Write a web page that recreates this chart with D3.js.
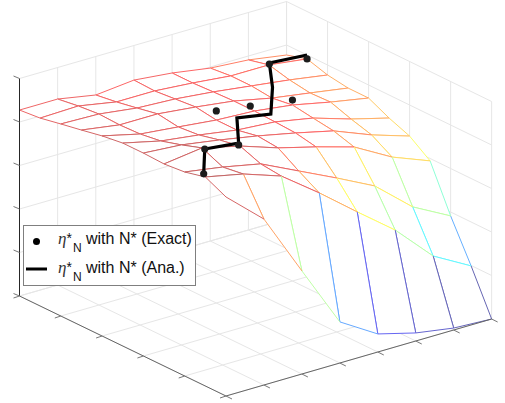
<!DOCTYPE html>
<html><head><meta charset="utf-8">
<script src="https://cdnjs.cloudflare.com/ajax/libs/d3/7.8.5/d3.min.js"></script>
<style>html,body{margin:0;padding:0;background:#fff}svg{display:block}</style>
</head><body><svg id="c" width="505" height="403"></svg>
<script>
const xValues = [0,1,2,3,4,5,6,7,8,9,10];
const yValues = [0,1,2,3,4,5,6,7];
const surfaceZ = [
 [.855,.855,.823,.841,.823,.795,.782,.754],
 [.864,.869,.837,.837,.823,.805,.805,.782],
 [.883,.878,.855,.846,.828,.805,.782,.754],
 [.901,.874,.874,.855,.832,.795,.768,.740],
 [.920,.878,.860,.841,.832,.809,.772,.740],
 [.933,.892,.869,.841,.828,.795,.740,.694],
 [.933,.920,.892,.860,.823,.782,.713,.657],
 [.929,.952,.910,.851,.805,.754,.657,.589],
 [.938,.910,.874,.791,.708,.621,.474,.382],
 [.961,.924,.864,.736,.598,.464,.294,.198],
 [.915,.763,.474,.189,.083,.037,.009,0]
];
const exactX = [8.92,7.13,6.93,4,3.8,4,1.02,1];
const exactY = [0,1,2,3,4,5,6,7];
const exactZ = [.972,.953,.912,.883,.846,.832,.810,.782];
const anaX = [8.92,7.13,6.93,5,4.8,3.03,1.02,1];
const anaY = [0,1,2,3,4,5,6,7];
const anaZ = [.972,.953,.920,.897,.855,.846,.815,.800];
const xTicks = [0,2,4,6,8,10];
const yTicks = [0,1,2,3,4,5,6,7];
const zTicks = [0,.2,.4,.6,.8,1];
const legendLabels = ["with N* (Exact)","with N* (Ana.)"];

const svg = d3.select("#c");
const ix = d3.scaleLinear().domain([0,10]).range([0,206.5]);
const jx = d3.scaleLinear().domain([0,7]).range([0,267.05]);
const iy = d3.scaleLinear().domain([0,10]).range([0,100]);
const jy = d3.scaleLinear().domain([0,7]).range([0,-77]);
const zs = d3.scaleLinear().domain([0,1]).range([0,-217.5]);
const P = (a,b,c) => [19.5+ix(a)+jx(b)-0.02*a*b, 296+iy(a)+jy(b)+zs(c)];
const line = d3.line();
const jet = d3.scaleLinear().domain([0,.125,.375,.625,.875,1])
  .range(["rgb(0,0,128)","rgb(0,0,255)","rgb(0,255,255)","rgb(255,255,0)","rgb(255,0,0)","rgb(128,0,0)"]).clamp(true);
const colorScale = d3.scaleLinear().domain([0,.29,.6,.77,.81,1]).range([0,.36,.63,.78,.87,1]);
const edgeColor = z => d3.interpolateRgb(jet(colorScale(z)),"#fff")(0.4);

const grid = svg.append("g").attr("stroke","#e6e6e6").attr("stroke-width",1).attr("fill","none");
const seg = (g,a,b,c) => g.append("path").attr("d",line([a,b])).attr("stroke",c||null);
xTicks.forEach(t=>{seg(grid,P(t,0,0),P(t,7,0));seg(grid,P(t,7,0),P(t,7,1));});
yTicks.forEach(t=>{seg(grid,P(0,t,0),P(10,t,0));seg(grid,P(0,t,0),P(0,t,1));});
zTicks.forEach(t=>{seg(grid,P(0,0,t),P(0,7,t));seg(grid,P(0,7,t),P(10,7,t));});

const surf = svg.append("g").attr("stroke-width",1).attr("fill","none");
for(let i=0;i<xValues.length-1;i++){
  for(let j=yValues.length-2;j>=0;j--){
    const n=(a,b)=>P(xValues[a],yValues[b],surfaceZ[a][b]);
    surf.append("path").attr("d",line([n(i,j),n(i+1,j),n(i+1,j+1),n(i,j+1)])+"Z").attr("fill","#fff").attr("stroke","none");
    seg(surf,n(i,j+1),n(i+1,j+1),edgeColor(surfaceZ[i+1][j+1]));
    seg(surf,n(i,j),n(i,j+1),edgeColor(surfaceZ[i][j]));
    seg(surf,n(i,j),n(i+1,j),edgeColor(surfaceZ[i+1][j]));
    seg(surf,n(i+1,j),n(i+1,j+1),edgeColor(surfaceZ[i+1][j]));
  }
}

const axes = svg.append("g").attr("fill","none").attr("stroke-width",1);
seg(axes,P(0,0,0),P(0,0,1),"#262626");
seg(axes,P(0,0,0),P(10,0,0),"#666");
seg(axes,P(10,0,0),P(10,7,0),"#666");
xTicks.forEach(t=>{const a=P(t,0,0);seg(axes,a,[a[0]-6,a[1]+2],"#777");});
yTicks.forEach(t=>{const a=P(10,t,0);seg(axes,a,[a[0]+6,a[1]+3],"#777");});
zTicks.forEach(t=>{const a=P(0,0,t);seg(axes,a,[a[0]-6,a[1]-2.5],"#777");});

svg.append("path").attr("fill","none").attr("stroke","#000").attr("stroke-width",3.2).attr("stroke-linejoin","miter")
  .attr("d",line(anaX.map((v,k)=>P(v,anaY[k],anaZ[k]))));
svg.append("g").selectAll("circle").data(exactX).join("circle")
  .attr("cx",(v,k)=>P(v,exactY[k],exactZ[k])[0]).attr("cy",(v,k)=>P(v,exactY[k],exactZ[k])[1])
  .attr("r",3.6).attr("fill","#1c1c1c");

const lg = svg.append("g");
lg.append("rect").attr("x",23.5).attr("y",225.5).attr("width",172).attr("height",60).attr("fill","#fff").attr("stroke","#7f7f7f");
lg.append("circle").attr("cx",36.5).attr("cy",241.5).attr("r",3.5).attr("fill","#000");
lg.append("line").attr("x1",26).attr("x2",47).attr("y1",269).attr("y2",269).attr("stroke","#000").attr("stroke-width",3);
legendLabels.forEach((s,k)=>{
  const y=244+k*28.5;
  const t=lg.append("text").attr("font-family","'Liberation Sans',Arial,sans-serif").attr("font-size",16).attr("fill","#111").attr("y",y);
  t.append("tspan").attr("x",58).attr("font-family","'Liberation Serif',serif").attr("font-style","italic").attr("font-size",17).attr("fill","#333").text("η");
  t.append("tspan").attr("x",66.5).attr("y",y-1).attr("font-size",14).text("*");
  t.append("tspan").attr("x",73).attr("y",y+8).attr("font-size",12).text("N");
  t.append("tspan").attr("x",86).attr("y",y).text(s);
});
</script></body></html>
